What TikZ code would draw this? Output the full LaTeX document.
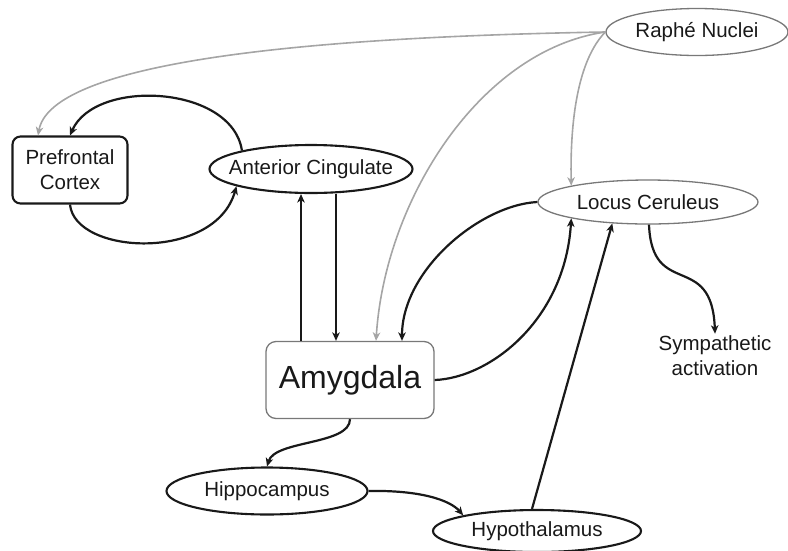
\documentclass[tikz,border=0pt]{standalone}
\usepackage{fontspec}
\setmainfont{Liberation Sans}
\usetikzlibrary{shapes.geometric,arrows.meta}
\definecolor{LineGray}{RGB}{165,165,165}
\definecolor{BoxGray}{RGB}{120,120,120}
\definecolor{InkBlack}{RGB}{25,25,25}

\begin{document}
\begin{tikzpicture}[x=1pt,y=-1pt,
    every node/.style={text=InkBlack,font=\fontsize{20.5}{24}\selectfont},
    oval/.style={ellipse,draw=InkBlack,line width=2.1pt,inner sep=0pt},
    paleoval/.style={ellipse,draw=BoxGray,line width=1.3pt,inner sep=0pt},
    link/.style={InkBlack,line width=2.2pt,-{Stealth[length=8.5pt,width=7.5pt,inset=2.5pt]}},
    palelink/.style={LineGray,line width=1.6pt,-{Stealth[length=8.5pt,width=7.5pt,inset=2.5pt]}}]
      \useasboundingbox (0,0) rectangle (788,550);

      \node[paleoval,minimum width=182pt,minimum height=47pt] (raphe) at (697,32) {\makebox[0pt]{Raphé Nuclei}};
      \node[paleoval,minimum width=220pt,minimum height=44pt] (lc) at (648,202) {\makebox[0pt]{Locus Ceruleus}};
      \node[oval,minimum width=203pt,minimum height=48pt] (ac) at (311,169) {\makebox[0pt]{Anterior Cingulate}};
      \node[oval,minimum width=201pt,minimum height=47pt] (hippo) at (267,491) {\makebox[0pt]{Hippocampus}};
      \node[oval,minimum width=208pt,minimum height=42pt] (hypo) at (537,531) {\makebox[0pt]{Hypothalamus}};
      \node[draw=InkBlack,line width=2.1pt,rounded corners=8pt,minimum width=115pt,minimum height=67pt,inner sep=1pt,align=center,font=\fontsize{20.5}{25}\selectfont] (pfc) at (70,170) {Prefrontal\\Cortex};
      \node[draw=BoxGray,line width=1.3pt,rounded corners=10pt,minimum width=168pt,minimum height=77pt,font=\fontsize{32}{38}\selectfont] (amyg) at (350,380) {Amygdala};
      \node[align=center,inner sep=2pt,font=\fontsize{20.5}{25}\selectfont] (symp) at (715,356) {Sympathetic\\activation};

      \draw[palelink] (raphe.west) .. controls (250,38) and (50,70) .. ([xshift=-32pt]pfc.north);
      \draw[palelink] (raphe.west) .. controls (480,50) and (385,200) .. ([xshift=26pt]amyg.north);
      \draw[palelink] (raphe.west) .. controls (578,60) and (570,120) .. (lc.168);

      \draw[link] (ac.165) .. controls (232,85) and (95,78) .. (pfc.north);
      \draw[link] (pfc.south) .. controls (75,255) and (215,262) .. (ac.193);
      \draw[link] ([xshift=-49pt]amyg.north) -- ([xshift=-49pt]amyg.north |- ac.south);
      \draw[link] ([xshift=-14pt]amyg.north |- ac.south) -- ([xshift=-14pt]amyg.north);

      \draw[link] (lc.west) .. controls (480,205) and (402,270) .. ([xshift=52pt]amyg.north);
      \draw[link] (amyg.east) .. controls (490,378) and (565,320) .. (lc.192);
      \draw[link] ([xshift=-5pt]hypo.north) -- (lc.211);
      \draw[link] ([xshift=1pt]lc.south) .. controls (652,300) and (712,250) .. (symp.north);

      \draw[link] (amyg.south) .. controls (350,445) and (275,440) .. (hippo.north);
      \draw[link] (hippo.east) .. controls (420,490) and (450,500) .. (hypo.168);
    \end{tikzpicture}
\end{document}
